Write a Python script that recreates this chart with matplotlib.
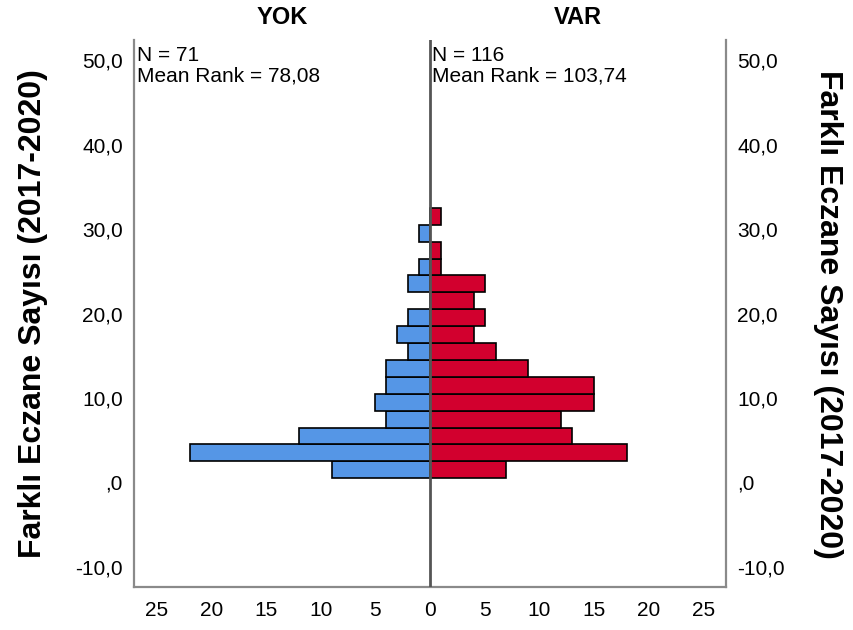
import numpy as np
import matplotlib
matplotlib.use("Agg")
import matplotlib.pyplot as plt

# bins of "Farklı Eczane Sayısı", width 2, lower edges 0.5, 2.5, ... 30.5
bin_lower = [0.5, 2.5, 4.5, 6.5, 8.5, 10.5, 12.5, 14.5, 16.5, 18.5,
             20.5, 22.5, 24.5, 26.5, 28.5, 30.5]
bin_width = 2.0
yok_counts = [9, 22, 12, 4, 5, 4, 4, 2, 3, 2, 0, 2, 1, 0, 1, 0]
var_counts = [7, 18, 13, 12, 15, 15, 9, 6, 4, 5, 4, 5, 1, 1, 0, 1]

groups = ["YOK", "VAR"]
group_n = [71, 116]
mean_rank = ["78,08", "103,74"]

y_ticks = [-10, 0, 10, 20, 30, 40, 50]
x_ticks = [-25, -20, -15, -10, -5, 0, 5, 10, 15, 20, 25]
ylabel = "Farklı Eczane Sayısı (2017-2020)"

BLUE = "#5596E6"
RED = "#D2002E"
FRAME = "#8a8a8a"

plt.rcParams["font.family"] = ["Liberation Sans", "DejaVu Sans"]


def fmt_y(v):
    s = ("%.1f" % v).replace(".", ",")
    if s.startswith("0,"):
        s = s[1:]  # SPSS writes ",0"
    return s


fig = plt.figure(figsize=(8.54, 6.3), dpi=100)
W, H = 854.0, 630.0
ax = fig.add_axes([134 / W, 1 - 587 / H, (726 - 134) / W, (587 - 40) / H])

ax.barh(bin_lower, [-c for c in yok_counts], height=bin_width, align="edge",
        color=BLUE, edgecolor="black", linewidth=1.2, zorder=2)
ax.barh(bin_lower, var_counts, height=bin_width, align="edge",
        color=RED, edgecolor="black", linewidth=1.2, zorder=2)

ax.axvline(0, color="#555555", lw=2.0, zorder=3)

ax.set_xlim(-27.1, 27.1)
ax.set_ylim(-12.37, 52.37)

ax.set_xticks(x_ticks)
ax.set_xticklabels([str(abs(v)) for v in x_ticks], fontsize=15)
ax.set_yticks(y_ticks)
ax.set_yticklabels([fmt_y(v) for v in y_ticks], fontsize=15)
ax.tick_params(axis="x", length=0, pad=10)
ax.tick_params(axis="y", length=0, pad=8, labelleft=True, labelright=True)

ax.spines["top"].set_visible(False)
for s in ("left", "right", "bottom"):
    ax.spines[s].set_color(FRAME)
    ax.spines[s].set_linewidth(1.6)

# group titles and stats
for i, (g, n, mr) in enumerate(zip(groups, group_n, mean_rank)):
    cx = (282 if i == 0 else 578) / W
    fig.text(cx, 1 - 18 / H, g, ha="center", va="center",
             fontsize=17, fontweight="bold")
    tx = (137 if i == 0 else 432) / W
    fig.text(tx, 1 - 46 / H, "N = %d\nMean Rank = %s" % (n, mr),
             ha="left", va="top", fontsize=15, linespacing=1.12)

fig.text(33 / W, 1 - 314 / H, ylabel, rotation=90, ha="center", va="center",
         fontsize=23, fontweight="bold")
fig.text(828 / W, 1 - 314 / H, ylabel, rotation=270, ha="center", va="center",
         fontsize=23, fontweight="bold")

fig.savefig("out.png", dpi=100)
